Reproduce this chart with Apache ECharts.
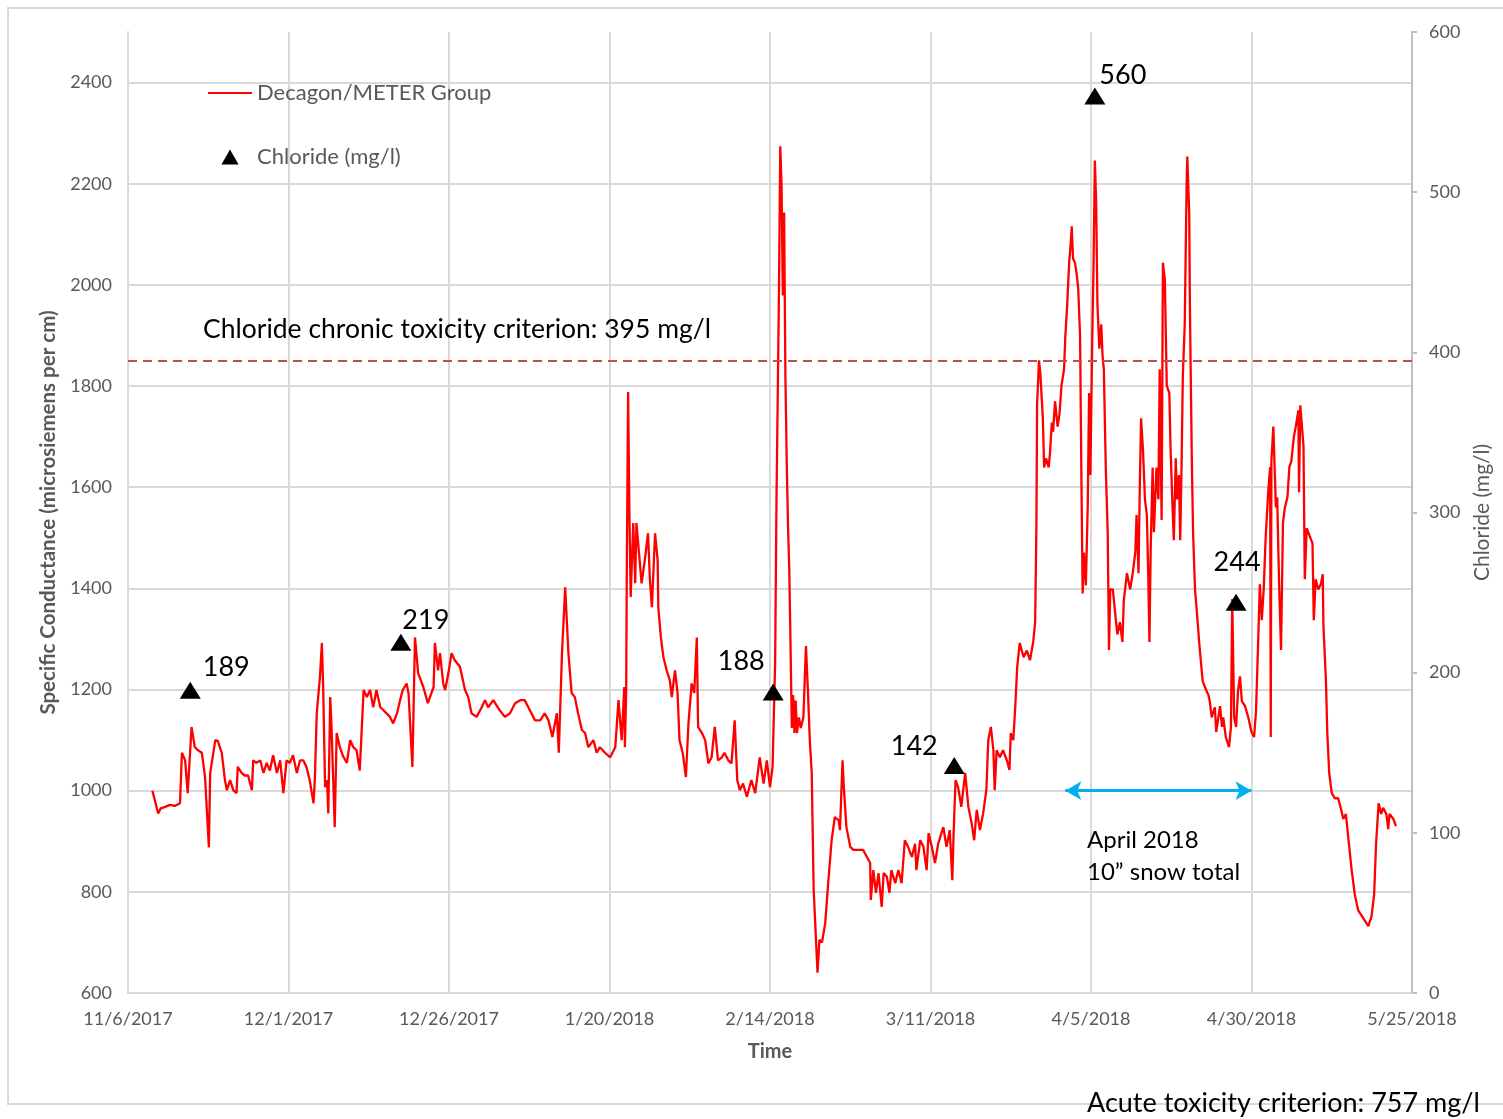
<!DOCTYPE html>
<html>
<head>
<meta charset="utf-8">
<script src="https://cdn.jsdelivr.net/npm/echarts/dist/echarts.min.js"></script>
<style>
  html, body { margin: 0; padding: 0; background: #ffffff; }
  #chart { width: 1503px; height: 1119px; }
</style>
</head>
<body>
<div id="chart"></div>
<script>
// Specific conductance readings: [days since 11/6/2017, microsiemens per cm]
const novReadings = [[3.8,1000],[4.2,980],[4.7,955],[5.1,965],[5.8,968],[6.5,972],[7.3,970],[8.1,975],[8.4,1075],[8.9,1060],[9.3,995],[9.9,1126],[10.4,1086],[10.9,1080],[11.5,1075],[12.0,1027],[12.6,888],[12.8,1035],[13.6,1100],[14.0,1098],[14.6,1075],[15.1,1021],[15.4,1001],[15.9,1021],[16.4,1001],[16.9,995],[17.1,1047],[17.7,1035],[18.2,1030],[18.7,1030],[19.3,1001],[19.5,1060],[20.0,1055],[20.6,1060],[21.1,1035],[21.6,1055],[22.1,1040],[22.6,1070],[23.2,1035],[23.7,1060],[24.2,995],[24.7,1060]];
const decReadings = [[25.2,1055],[25.7,1070],[26.3,1035],[26.8,1060],[27.3,1060],[27.8,1047],[28.3,1021],[28.9,975],[29.1,1021],[29.4,1153],[29.9,1225],[30.2,1292],[30.4,1205],[30.7,1007],[31.0,1021],[31.2,955],[31.5,1185],[31.7,1126],[32.0,1007],[32.2,928],[32.5,1114],[32.8,1114],[33.0,1086],[33.5,1068],[34.1,1055],[34.6,1100],[35.1,1086],[35.6,1080],[36.1,1040],[36.7,1199],[37.2,1185],[37.7,1199],[38.2,1165],[38.7,1199],[39.3,1165],[39.8,1159],[40.8,1146],[41.3,1133],[41.9,1153],[42.4,1180],[42.8,1199],[43.4,1212],[43.7,1192],[44.3,1047],[44.7,1303],[45.2,1232],[46.0,1205],[46.7,1173],[47.6,1205],[47.8,1292],[48.3,1238],[48.6,1272],[49.1,1212],[49.4,1199],[49.9,1232],[50.4,1272],[50.9,1258],[51.7,1245],[52.5,1199],[53.0,1185],[53.5,1153],[54.3,1146],[55.1,1165],[55.6,1179]];
const janReadings = [[56.1,1165],[56.9,1179],[57.9,1159],[58.7,1146],[59.5,1153],[60.3,1173],[61.1,1179],[61.8,1179],[62.6,1159],[63.4,1139],[64.2,1139],[64.9,1153],[65.5,1139],[66.1,1106],[66.8,1153],[67.1,1075],[67.6,1272],[68.1,1402],[68.6,1272],[69.1,1193],[69.6,1185],[70.1,1153],[70.7,1120],[71.2,1114],[71.7,1086],[72.5,1100],[73.0,1075],[73.5,1086],[74.3,1075],[75.1,1066],[75.9,1086],[76.4,1179],[76.9,1100],[77.3,1205],[77.4,1086],[77.6,1199],[77.7,1450],[77.9,1788],[78.1,1549],[78.3,1383],[78.5,1456],[78.7,1529],[79.0,1410],[79.2,1529],[79.6,1469],[80.0,1410],[80.5,1456],[81.0,1509],[81.3,1416],[81.6,1363],[82.1,1509],[82.5,1456],[82.6,1363],[83.0,1303],[83.4,1264],[83.9,1238],[84.4,1218],[84.7,1185],[85.2,1238],[85.6,1193],[85.9,1100],[86.4,1075],[86.9,1027]];
const febReadings = [[87.3,1133],[87.8,1212],[88.2,1193],[88.6,1303],[88.8,1126],[89.4,1114],[89.9,1100],[90.4,1054],[90.9,1066],[91.4,1126],[91.9,1060],[92.5,1066],[92.9,1075],[93.5,1060],[94.0,1054],[94.5,1139],[94.9,1021],[95.3,1001],[95.8,1014],[96.4,988],[97.1,1021],[97.7,995],[98.4,1066],[99.0,1014],[99.5,1060],[100.0,1007],[100.4,1047],[100.8,1254],[101.0,1561],[101.4,1991],[101.6,2274],[101.8,2197],[102.0,1979],[102.2,2143],[102.4,1817],[102.6,1655],[102.8,1525],[103.0,1438],[103.2,1286],[103.4,1124],[103.6,1189],[103.8,1114],[104.0,1178],[104.2,1114],[104.5,1145],[104.8,1124],[105.2,1145],[105.6,1286],[105.9,1199],[106.2,1100],[106.5,1035],[106.8,804],[107.0,750],[107.4,640],[107.7,705],[108.1,700],[108.6,738],[109.1,823],[109.6,902],[110.1,948],[110.7,941],[110.9,922],[111.3,1060],[111.5,1007],[111.9,928],[112.5,889],[113.0,883],[113.8,883],[114.5,883]];
const marReadings = [[115.1,869],[115.6,857],[115.7,784],[116.1,843],[116.5,798],[116.9,837],[117.4,770],[117.7,837],[118.2,830],[118.6,798],[118.9,843],[119.5,817],[120.0,843],[120.5,817],[121.0,902],[121.5,889],[122.1,869],[122.6,895],[122.8,843],[123.4,902],[123.9,889],[124.4,843],[124.7,916],[125.2,889],[125.7,857],[126.2,895],[126.7,916],[127.0,928],[127.5,889],[128.0,922],[128.4,823],[128.6,916],[128.9,1021],[129.3,1007],[129.8,968],[130.4,1035],[130.9,968],[131.4,936],[131.8,902],[132.2,962],[132.7,922],[133.2,955],[133.7,1001],[134.0,1100],[134.4,1126],[134.8,1080],[135.0,1001],[135.3,1080],[135.8,1066],[136.3,1080],[136.9,1060],[137.3,1041],[137.5,1114],[137.9,1100],[138.2,1165],[138.5,1244],[138.9,1292],[139.5,1264],[140.0,1277],[140.5,1258],[141.0,1294],[141.3,1333],[141.5,1527],[141.6,1763],[141.9,1851],[142.1,1826],[142.5,1736],[142.7,1639],[143.0,1657],[143.4,1639],[143.6,1665],[143.9,1728],[144.1,1710],[144.4,1770],[144.8,1720],[145.1,1745],[145.4,1801],[145.8,1833]];
const aprReadings = [[146.0,1898],[146.3,1963],[146.6,2044],[146.9,2092],[147.0,2116],[147.2,2052],[147.5,2044],[147.8,2018],[148.0,1995],[148.3,1898],[148.5,1624],[148.7,1390],[148.9,1471],[149.2,1406],[149.5,1568],[149.7,1786],[149.9,1624],[150.2,1898],[150.4,2044],[150.6,2246],[150.8,2165],[151.0,1963],[151.3,1874],[151.6,1922],[151.8,1859],[152.0,1833],[152.3,1639],[152.6,1511],[152.8,1278],[153.0,1398],[153.4,1398],[153.7,1359],[154.1,1309],[154.5,1333],[154.9,1294],[155.1,1375],[155.6,1430],[156.1,1398],[156.5,1430],[156.9,1471],[157.1,1545],[157.4,1430],[157.6,1600],[157.8,1736],[158.1,1673],[158.4,1576],[158.7,1545],[158.9,1438],[159.1,1294],[159.3,1479],[159.6,1639],[159.8,1511],[160.0,1576],[160.2,1639],[160.5,1576],[160.7,1833],[161.0,1535],[161.2,2044],[161.5,2011],[161.8,1801],[162.2,1786],[162.4,1673],[162.7,1560],[162.9,1495],[163.2,1657],[163.4,1576],[163.7,1624],[163.9,1495],[164.1,1639],[164.3,1817],[164.6,1922],[164.9,2204],[165.0,2254],[165.3,2141],[165.4,1963],[165.7,1657],[165.9,1511],[166.2,1398],[166.5,1351],[166.9,1286],[167.2,1244],[167.4,1216],[168.0,1197],[168.3,1189],[168.5,1177],[168.8,1145],[169.3,1165],[169.5,1116],[170.1,1167],[170.4,1126],[170.6,1145],[171.0,1106],[171.5,1086],[171.8,1126],[172.0,1379],[172.3,1145],[172.6,1126],[172.9,1197],[173.2,1226],[173.5,1177],[174.0,1167],[174.5,1145]];
const mayReadings = [[175.0,1116],[175.4,1106],[175.7,1156],[176.0,1278],[176.3,1408],[176.6,1337],[176.9,1398],[177.2,1499],[177.6,1590],[177.9,1640],[178.0,1106],[178.1,1651],[178.4,1720],[178.8,1560],[179.0,1580],[179.3,1408],[179.6,1278],[179.9,1529],[180.2,1560],[180.6,1580],[180.9,1640],[181.2,1651],[181.6,1700],[181.9,1720],[182.3,1752],[182.4,1590],[182.6,1762],[182.9,1762],[183.1,1681],[183.3,1418],[183.6,1519],[183.9,1519],[184.2,1499],[184.5,1489],[184.7,1337],[185.0,1418],[185.4,1398],[185.8,1408],[186.1,1428],[186.2,1327],[186.6,1216],[186.8,1116],[187.1,1035],[187.5,995],[188.0,985],[188.5,985],[188.9,966],[189.3,944],[189.7,954],[190.1,904],[190.6,843],[191.1,794],[191.6,764],[192.2,752],[192.7,742],[193.2,732],[193.7,752],[194.1,794],[194.4,894],[194.8,975],[195.2,954],[195.5,966],[196.0,954],[196.3,924],[196.5,954],[197.1,944],[197.5,930]];

// Chloride grab samples
const chlorideDays = [9.7, 42.5, 100.5, 128.7, 150.6, 172.6];
const chlorideMgL = [189, 219, 188, 142, 560, 244];

// Criteria and annotation values
const chronicCriterion = 395;            // mg/l
const snowPeriod = [146, 175];           // April 2018, days since start
const snowArrowLevel = 1000;             // drawn at this conductance

// Axis ranges
const startDate = Date.UTC(2017, 10, 6);
const dayRange = [0, 200, 25];
const condRange = [600, 2500, 200];
const chlRange = [0, 600, 100];

const conductance = [].concat(novReadings, decReadings, janReadings, febReadings, marReadings, aprReadings, mayReadings);
const chloride = chlorideDays.map((d, i) => [d, chlorideMgL[i]]);

// label offsets for the sample values, relative to each triangle
const sampleLabelOffsets = [[36, -23], [25, -22], [-32, -31], [-40, -19], [28, -21], [1, -40]];

const FONT = 'Lato, "Open Sans", sans-serif';
const GRID = '#d9d9d9';
const TEXT_GRAY = '#595959';

function dayToLabel(v) {
  const d = new Date(startDate + v * 86400000);
  return (d.getUTCMonth() + 1) + '/' + d.getUTCDate() + '/' + d.getUTCFullYear();
}

const chart = echarts.init(document.getElementById('chart'), null, { renderer: 'canvas' });

chart.setOption({
  backgroundColor: '#ffffff',
  animation: false,
  textStyle: { fontFamily: FONT },
  grid: { left: 128, right: 91, top: 32, bottom: 126, containLabel: false },
  legend: {
    orient: 'vertical',
    left: 208,
    top: 81,
    padding: 0,
    itemWidth: 44,
    itemHeight: 15,
    itemGap: 40,
    selectedMode: false,
    textStyle: { color: TEXT_GRAY, fontSize: 22, fontFamily: FONT, lineHeight: 24 },
    data: [
      { name: 'Decagon/METER Group', icon: 'path://M0,0 L44,0 L44,2 L0,2 Z' },
      { name: 'Chloride (mg/l)', icon: 'path://M8,0 L16,14 L0,14 Z' }
    ]
  },
  xAxis: {
    type: 'value',
    min: dayRange[0], max: dayRange[1], interval: dayRange[2],
    name: 'Time',
    nameLocation: 'middle',
    nameGap: 49,
    nameTextStyle: { color: TEXT_GRAY, fontSize: 20, fontWeight: 'bold', fontFamily: FONT },
    axisLine: { show: true, lineStyle: { color: GRID, width: 2 } },
    axisTick: { show: false },
    axisLabel: { color: TEXT_GRAY, fontSize: 18, margin: 17, formatter: dayToLabel, fontFamily: FONT },
    splitLine: { show: true, lineStyle: { color: GRID, width: 2 } }
  },
  yAxis: [
    {
      type: 'value',
      position: 'left',
      min: condRange[0], max: condRange[1], interval: condRange[2],
      name: 'Specific Conductance (microsiemens per cm)',
      nameLocation: 'middle',
      nameGap: 68,
      nameRotate: 90,
      nameTextStyle: { color: TEXT_GRAY, fontSize: 20.5, fontWeight: 'bold', fontFamily: FONT },
      axisLine: { show: true, lineStyle: { color: GRID, width: 2 } },
      axisTick: { show: false },
      axisLabel: { color: TEXT_GRAY, fontSize: 18, margin: 16, showMaxLabel: false, fontFamily: FONT, formatter: v => String(v) },
      splitLine: { show: true, showMaxLine: false, lineStyle: { color: GRID, width: 2 } }
    },
    {
      type: 'value',
      position: 'right',
      min: chlRange[0], max: chlRange[1], interval: chlRange[2],
      name: 'Chloride (mg/l)',
      nameLocation: 'middle',
      nameGap: 60,
      nameRotate: 90,
      nameTextStyle: { color: TEXT_GRAY, fontSize: 21, fontFamily: FONT },
      axisLine: { show: true, lineStyle: { color: '#bfbfbf', width: 2 } },
      axisTick: { show: true, inside: false, length: 5, lineStyle: { color: '#bfbfbf', width: 2 } },
      axisLabel: { color: TEXT_GRAY, fontSize: 18, margin: 17, fontFamily: FONT, formatter: v => String(v) },
      splitLine: { show: false }
    }
  ],
  series: [
    {
      name: 'Decagon/METER Group',
      type: 'line',
      xAxisIndex: 0,
      yAxisIndex: 0,
      data: conductance,
      showSymbol: false,
      symbol: 'none',
      color: '#ff0000',
      lineStyle: { color: '#ff0000', width: 2.3 },
      z: 3,
      markLine: {
        silent: true,
        symbol: ['arrow', 'arrow'],
        symbolSize: [14, 16],
        label: { show: false },
        lineStyle: { color: '#00b0f0', width: 3, type: 'solid' },
        data: [[
          { coord: [snowPeriod[0], snowArrowLevel] },
          { coord: [snowPeriod[1], snowArrowLevel] }
        ]]
      }
    },
    {
      name: 'Chloride (mg/l)',
      type: 'scatter',
      xAxisIndex: 0,
      yAxisIndex: 1,
      symbol: 'triangle',
      symbolSize: [21, 17],
      color: '#000000',
      itemStyle: { color: '#000000', opacity: 1 },
      z: 5,
      data: chloride.map((p, i) => ({
        value: p,
        label: {
          show: true,
          position: 'inside',
          align: 'center',
          verticalAlign: 'middle',
          offset: sampleLabelOffsets[i],
          formatter: String(p[1]),
          color: '#000000',
          fontSize: 27,
          fontFamily: FONT
        }
      })),
      markLine: {
        silent: true,
        symbol: 'none',
        label: { show: false },
        lineStyle: { color: '#c0504d', width: 1.8, type: [9, 6], opacity: 1 },
        data: [{ yAxis: chronicCriterion }]
      }
    }
  ],
  graphic: [
    {
      type: 'rect', z: -1, silent: true,
      shape: { x: 8, y: 8, width: 1500, height: 1096 },
      style: { fill: 'none', stroke: GRID, lineWidth: 2 }
    },
    {
      type: 'text', left: 203, top: 316, silent: true, z: 20,
      style: { text: 'Chloride chronic toxicity criterion: ' + chronicCriterion + ' mg/l', fill: '#000000', font: '26.5px ' + FONT }
    },
    {
      type: 'text', left: 1087, top: 828, silent: true, z: 20,
      style: { text: 'April 2018', fill: '#000000', font: '24px ' + FONT }
    },
    {
      type: 'text', left: 1087, top: 860, silent: true, z: 20,
      style: { text: '10\u201d snow total', fill: '#000000', font: '24px ' + FONT }
    },
    {
      type: 'text', left: 1087, top: 1090, silent: true, z: 20,
      style: { text: 'Acute toxicity criterion: 757 mg/l', fill: '#000000', font: '27px ' + FONT }
    }
  ]
});
</script>
</body>
</html>
